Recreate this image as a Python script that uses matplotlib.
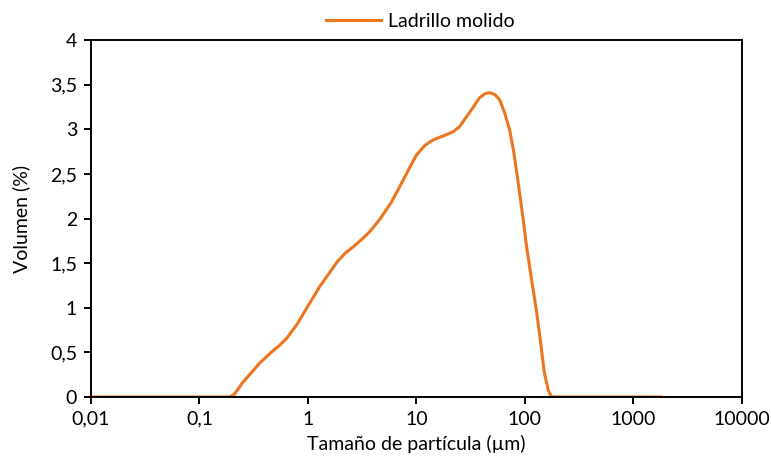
import numpy as np
import matplotlib
matplotlib.use("Agg")
import matplotlib.pyplot as plt
from matplotlib.ticker import FixedLocator, FixedFormatter, NullLocator

# particle size (um) vs volume (%)
size = [0.01, 0.05, 0.1, 0.15, 0.19, 0.21, 0.25, 0.30, 0.36, 0.45, 0.55, 0.64,
        0.80, 0.98, 1.29, 1.6, 1.85, 2.2, 2.6, 3.1, 3.7, 4.6, 5.8, 7.05,
        8.5, 10, 12, 14.2, 18, 21.7, 25, 29, 34, 38, 43, 47.5, 53, 58.7,
        65, 72.6, 79, 86, 95, 104, 116, 129, 140, 151, 165, 177, 250, 500,
        1000, 1800]
volume = [0, 0, 0, 0, 0, 0.03, 0.16, 0.27, 0.38, 0.49, 0.58, 0.66,
          0.82, 1.0, 1.24, 1.40, 1.51, 1.61, 1.68, 1.76, 1.85, 1.99, 2.17, 2.36,
          2.55, 2.71, 2.82, 2.88, 2.93, 2.97, 3.03, 3.14, 3.26, 3.35, 3.40, 3.41, 3.39, 3.33,
          3.19, 2.99, 2.75, 2.44, 2.06, 1.68, 1.30, 0.94, 0.61, 0.28, 0.07, 0, 0, 0,
          0, 0]

xticks = [0.01, 0.1, 1, 10, 100, 1000, 10000]
xlabels = ["0,01", "0,1", "1", "10", "100", "1000", "10000"]
yticks = [0, 0.5, 1, 1.5, 2, 2.5, 3, 3.5, 4]
ylabels = ["0", "0,5", "1", "1,5", "2", "2,5", "3", "3,5", "4"]

plt.rcParams['font.family'] = ['Lato', 'DejaVu Sans']

fig = plt.figure(figsize=(7.71, 4.61), dpi=100)
ax = fig.add_axes([0.118, 0.139, 0.844, 0.774])

ax.plot(size, volume, color="#EC7620", lw=2.2, label="Ladrillo molido",
        solid_joinstyle="round")

ax.set_xscale("log")
ax.set_xlim(0.01, 10000)
ax.set_ylim(0, 4)
ax.xaxis.set_major_locator(FixedLocator(xticks))
ax.xaxis.set_major_formatter(FixedFormatter(xlabels))
ax.xaxis.set_minor_locator(NullLocator())
ax.yaxis.set_major_locator(FixedLocator(yticks))
ax.yaxis.set_major_formatter(FixedFormatter(ylabels))

for s in ax.spines.values():
    s.set_linewidth(1.4)
    s.set_color("black")
ax.tick_params(axis="both", direction="out", length=5, width=1.4,
               labelsize=14, colors="black", pad=5)

ax.set_xlabel("Tamaño de partícula (µm)", fontsize=14, labelpad=5)
ax.set_ylabel("Volumen (%)", fontsize=14, labelpad=14)

fig.legend(loc="upper center", bbox_to_anchor=(0.545, 1.01), frameon=False,
           fontsize=14, handlelength=2.8, handletextpad=0.35)

fig.savefig("out.png", dpi=100)
